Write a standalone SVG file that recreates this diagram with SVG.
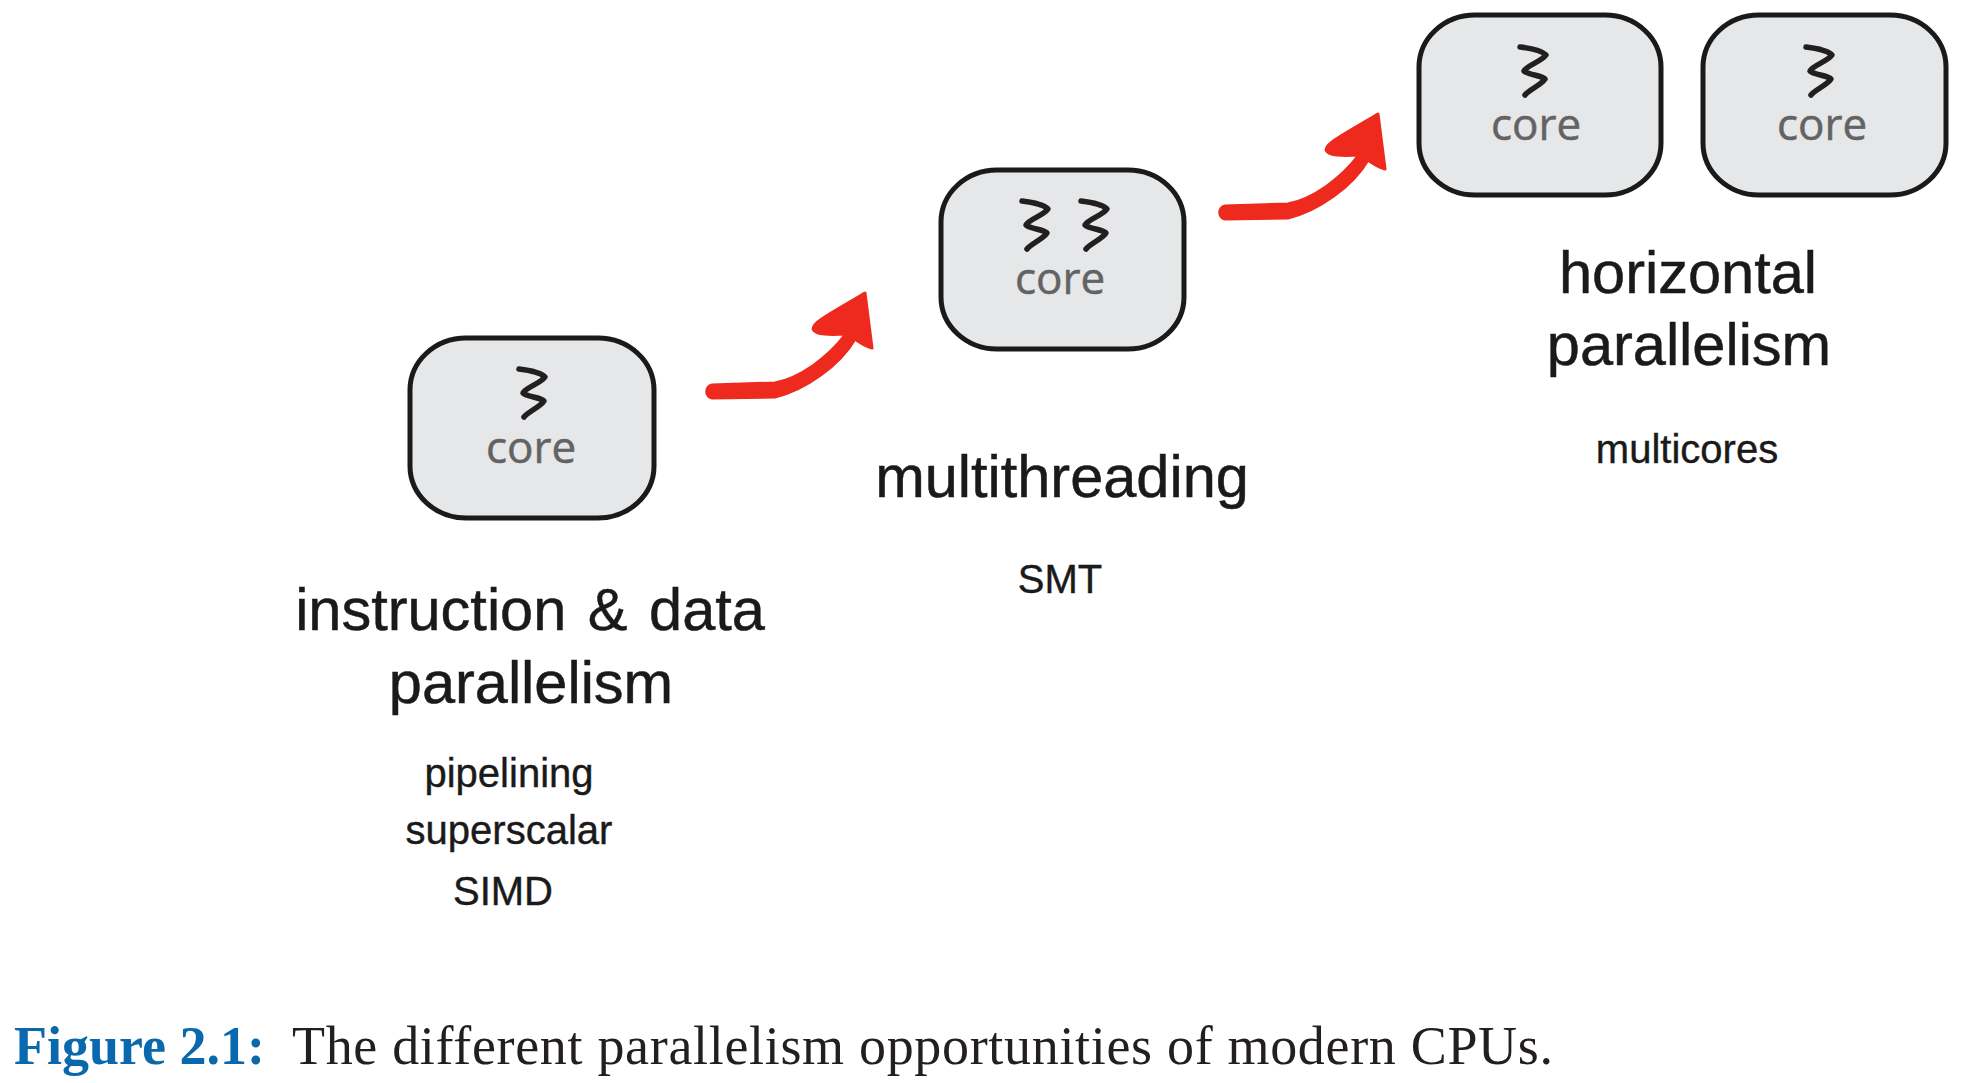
<svg xmlns="http://www.w3.org/2000/svg" width="1962" height="1083" viewBox="0 0 1962 1083">
<style>
.box{fill:#e6e7e8;stroke:#1a1a1a;stroke-width:5}
.thread{fill:none;stroke:#231f20;stroke-width:5.5;stroke-linecap:round;stroke-linejoin:round}
.core{font-family:"Open Sans",sans-serif;font-size:44px;fill:#636363;stroke:#636363;stroke-width:.5;text-anchor:middle}
.big{font-family:"Liberation Sans",Arial,sans-serif;font-size:59.5px;fill:#1a1a1a;stroke:#1a1a1a;stroke-width:.5;text-anchor:middle}
.small{font-family:"Liberation Sans",Arial,sans-serif;font-size:40px;fill:#1a1a1a;stroke:#1a1a1a;stroke-width:.4;text-anchor:middle}
.cap{font-family:"Liberation Serif","Times New Roman",serif;font-size:54px}
</style>
<defs>
<path id="squiggle" class="thread" d="M-13,-23 C-4,-22 8,-20 13,-15 C8,-8 -6,-5 -9,1 C-5,5 8,5 12,9 C8,15 -4,20 -8,25"/>
<path id="arrow" fill="#ee2a1e" stroke="#ee2a1e" stroke-width="3" stroke-linejoin="round" d="M712,385 L775,383 C800,378 828,358 846,334 C830,335 816,335 813,329 C813,323 822,318 865,293 L872,348 C865,346 859,342 855,339 C840,365 805,390 775,397 L712,398 C705,397 705,386 712,385 Z"/>
</defs>
<rect width="1962" height="1083" fill="#fff"/>
<g id="connectors">
<use href="#arrow"/>
<use href="#arrow" transform="translate(513,-179)"/>
</g>
<g id="node-instruction">
<rect class="box" x="410" y="338" width="244" height="180" rx="56" ry="52"/>
<use href="#squiggle" x="532" y="392"/>
<text class="core" x="531" y="463">core</text>
<text class="big" x="530" y="630" word-spacing="5">instruction &amp; data</text>
<text class="big" x="531" y="703">parallelism</text>
<text class="small" x="509" y="787">pipelining</text>
<text class="small" x="509" y="844">superscalar</text>
<text class="small" x="503" y="905">SIMD</text>
</g>
<g id="node-multithreading">
<rect class="box" x="941" y="170" width="243" height="179" rx="56" ry="52"/>
<use href="#squiggle" x="1035" y="224"/>
<use href="#squiggle" x="1094" y="224"/>
<text class="core" x="1060" y="294">core</text>
<text class="big" x="1062" y="497">multithreading</text>
<text class="small" x="1060" y="593">SMT</text>
</g>
<g id="node-horizontal">
<g id="core-left">
<rect class="box" x="1419" y="15" width="242" height="180" rx="56" ry="52"/>
<use href="#squiggle" x="1533" y="70"/>
<text class="core" x="1536" y="140">core</text>
</g>
<g id="core-right">
<rect class="box" x="1703" y="15" width="243" height="180" rx="56" ry="52"/>
<use href="#squiggle" x="1819" y="70"/>
<text class="core" x="1822" y="140">core</text>
</g>
<text class="big" x="1688" y="293">horizontal</text>
<text class="big" x="1689" y="365">parallelism</text>
<text class="small" x="1687" y="463">multicores</text>
</g>
<g id="caption">
<text class="cap" x="14" y="1064" fill="#0a68ad" font-weight="bold">Figure 2.1:</text>
<text class="cap" x="292" y="1064" fill="#231f20" letter-spacing=".68">The different parallelism opportunities of modern CPUs.</text>
</g>
</svg>
